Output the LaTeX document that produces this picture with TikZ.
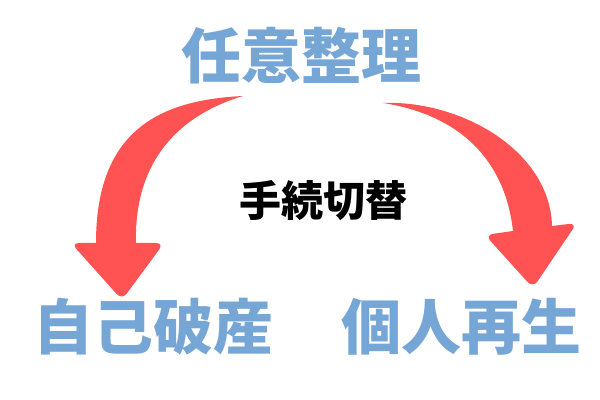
\documentclass[tikz,border=0pt]{standalone}
\usepackage{fontspec}
\newfontfamily\jpfont{Noto Sans CJK JP}
\definecolor{procblue}{RGB}{118,166,214}
\definecolor{arrred}{RGB}{255,82,82}
\begin{document}
\begin{tikzpicture}[x=0.5pt, y=-0.5pt,
        proc/.style={text=procblue, font=\jpfont\bfseries\fontsize{30pt}{30pt}\selectfont, inner sep=0pt},
        swap/.style={text=black, font=\jpfont\bfseries\fontsize{21pt}{21pt}\selectfont, inner sep=0pt},
        bigarrow/.style={fill=arrred, draw=none}]
        % \helpgrid{3}{3}
        \useasboundingbox (0,0) rectangle (600,400);
        \node [proc] (nini) at (301,56) {任意整理};
        \node [proc] (jiko) at (153,327) {自己破産};
        \node [proc] (kojin) at (461,327) {個人再生};
        \node [swap] (kirikae) at (323,201) {手続切替};
        \fill [bigarrow] (243,96) .. controls (160,100) and (96,130) .. (96,243)
            [rounded corners=4] -- (71,243) -- (122,300) -- (164,243) [sharp corners] -- (136,243)
            .. controls (134,170) and (170,118) .. (243,96) -- cycle;
        \fill [bigarrow] (383,103) .. controls (460,100) and (550,150) .. (552,226)
            [rounded corners=4] -- (577,223) -- (533,288) -- (485,235) [sharp corners] -- (513,231)
            .. controls (505,160) and (460,115) .. (383,103) -- cycle;
    \end{tikzpicture}
\end{document}
